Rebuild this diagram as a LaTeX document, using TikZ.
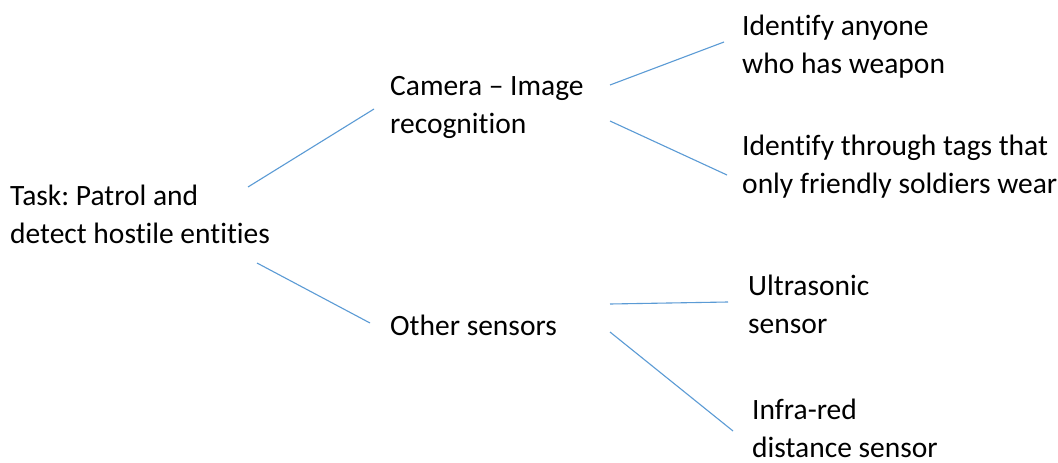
\documentclass[tikz,border=0pt]{standalone}
\usepackage{fontspec}
\setmainfont{Carlito}[Ligatures=NoCommon]
\frenchspacing
\definecolor{linkblue}{HTML}{5B9BD5}
\begin{document}
\begin{tikzpicture}[x=1pt,y=-1pt,
  label/.style={anchor=base west,inner sep=0pt,align=left,
    font=\fontsize{29.5}{38}\selectfont},
  link/.style={draw=linkblue,line width=1.1pt}]
\useasboundingbox[fill=white] (0,0) rectangle (1058,463);

% text blocks, placed by the baseline of their last line
\node[label] (task) at (10,243) {Task: Patrol and\\detect hostile entities};
\node[label] (cam) at (390,133) {Camera -- Image\\recognition};
\node[label] (other) at (390,335) {Other sensors};
\node[label] (weap) at (742,73) {Identify anyone\\who has weapon};
\node[label] (tags) at (742,193) {Identify through tags that\\only friendly soldiers wear};
\node[label] (ultra) at (748,333) {Ultrasonic\\sensor};
\node[label] (ir) at (752,457) {Infra-red\\distance sensor};

% connectors between the blocks
\path[link] ([shift={(238,-56)}]task.base west) -- ([shift={(-16,-24)}]cam.base west);
\path[link] ([shift={(247,20)}]task.base west) -- ([shift={(-20,-12)}]other.base west);
\path[link] ([shift={(220,-48)}]cam.base west) -- ([shift={(-18,-31)}]weap.base west);
\path[link] ([shift={(220,-12)}]cam.base west) -- ([shift={(-15,-18)}]tags.base west);
\path[link] ([shift={(220,-31)}]other.base west) -- ([shift={(-20,-31)}]ultra.base west);
\path[link] ([shift={(220,-3)}]other.base west) -- ([shift={(-19,-26)}]ir.base west);
\end{tikzpicture}
\end{document}
